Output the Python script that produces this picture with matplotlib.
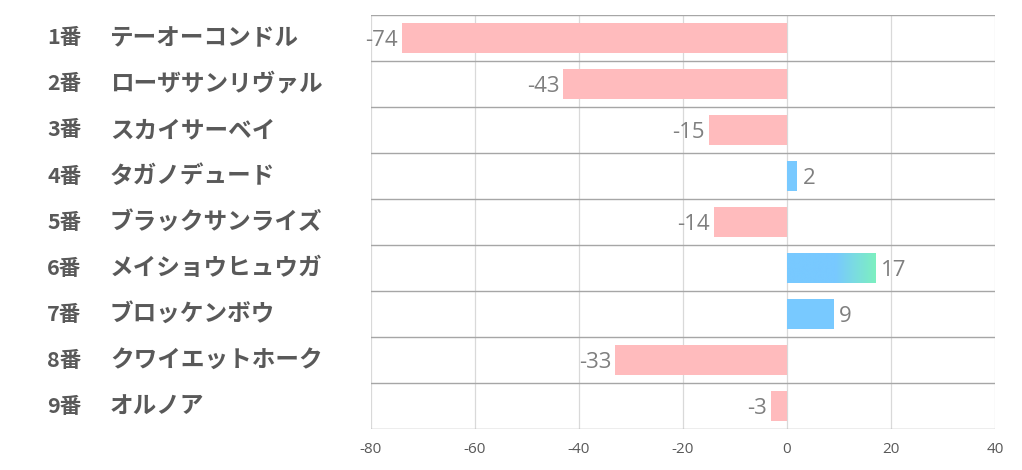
import matplotlib
matplotlib.use("Agg")
import matplotlib.pyplot as plt
import numpy as np
from matplotlib.colors import LinearSegmentedColormap
from matplotlib.transforms import blended_transform_factory

plt.rcParams['font.family'] = ['Noto Sans CJK JP', 'DejaVu Sans']

# データ
numbers = ["1番", "2番", "3番", "4番", "5番", "6番", "7番", "8番", "9番"]
names = ["テーオーコンドル", "ローザサンリヴァル", "スカイサーベイ", "タガノデュード",
         "ブラックサンライズ", "メイショウヒュウガ", "ブロッケンボウ", "クワイエットホーク", "オルノア"]
values = [-74, -43, -15, 2, -14, 17, 9, -33, -3]
xticks = [-80, -60, -40, -20, 0, 20, 40]

pink = "#FFBBBD"
blue = "#78C9FF"
green = "#7DF0C0"

fig = plt.figure(figsize=(10.22, 4.70), dpi=100)
ax = fig.add_axes([0.363, 0.0872, 0.6106, 0.8809])

bar_h = 0.65
for i, v in enumerate(values):
    col = pink if v < 0 else blue
    bars = ax.barh(i, v, height=bar_h, color=col, zorder=3)
    # 最大値のバーはグラデーション
    if v == max(values):
        cmap = LinearSegmentedColormap.from_list("g", [(0, blue), (0.55, blue), (1, green)])
        grad = np.linspace(0, 1, 256).reshape(1, -1)
        im = ax.imshow(grad, cmap=cmap, aspect="auto", zorder=4,
                       extent=[0, v, i + bar_h / 2, i - bar_h / 2])
        im.set_clip_path(bars[0])
    if v < 0:
        ax.text(v - 0.8, i + 0.05, str(v), ha="right", va="center", fontsize=16,
                color="#7F7F7F", family=["Open Sans", "DejaVu Sans"], zorder=5)
    else:
        ax.text(v + 1, i + 0.05, str(v), ha="left", va="center", fontsize=16,
                color="#7F7F7F", family=["Open Sans", "DejaVu Sans"], zorder=5)

ax.set_xlim(-80, 40)
ax.set_ylim(len(values) - 0.5, -0.5)
ax.set_xticks(xticks)
ax.set_xticklabels([str(t) for t in xticks], fontsize=11, color="#595959",
                   family=["Open Sans", "DejaVu Sans"])
ax.set_yticks([])
ax.tick_params(axis="x", length=0, pad=9)

# グリッド
for t in xticks:
    ax.axvline(t, color="#D9D9D9", linewidth=0.9, zorder=1)
for b in np.arange(-0.5, len(values), 1):
    ax.axhline(b, color="#A6A6A6", linewidth=1.0, zorder=2)

for s in ax.spines.values():
    s.set_visible(False)

# 左側のラベル
tr = blended_transform_factory(fig.transFigure, ax.transData)
for i in range(len(values)):
    ax.text(0.046, i, numbers[i], transform=tr, ha="left", va="center",
            fontsize=15.5, fontweight="bold", color="#595959", clip_on=False)
    ax.text(0.1076, i, names[i], transform=tr, ha="left", va="center",
            fontsize=17, fontweight="bold", color="#595959", clip_on=False)

fig.savefig("out.png", dpi=100)
